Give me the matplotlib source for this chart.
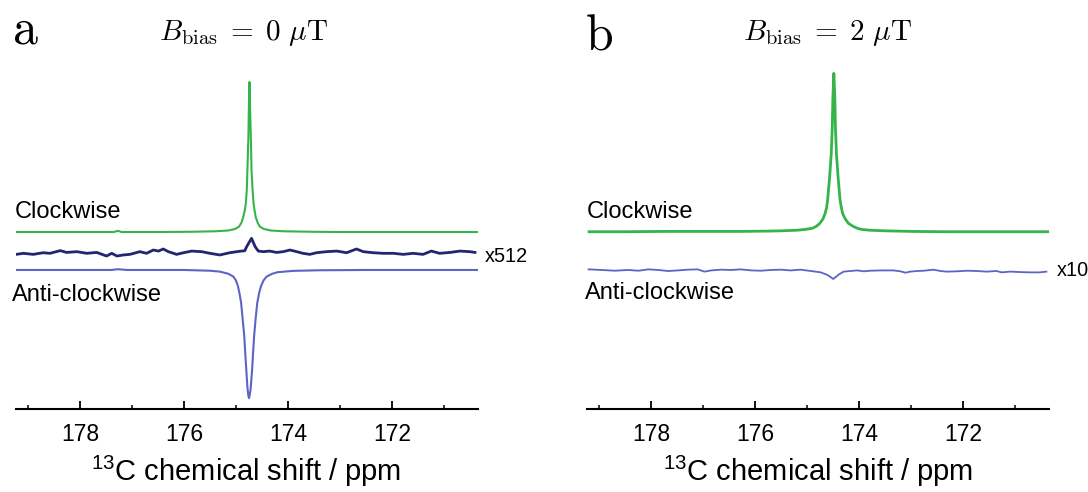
import matplotlib
matplotlib.use('Agg')
import matplotlib.pyplot as plt

plt.rcParams['font.family'] = ['Liberation Sans', 'DejaVu Sans']
plt.rcParams['mathtext.fontset'] = 'custom'
plt.rcParams['mathtext.rm'] = 'Liberation Sans'
plt.rcParams['mathtext.it'] = 'Liberation Sans:italic'

# ---- data (ppm, relative intensity) ----
# panel a, B_bias = 0 uT
cw_a_ppm = [179.24, 178.6, 177.9, 177.35, 177.27, 177.2, 176.5, 175.8, 175.4,
            175.15, 175.02, 174.94, 174.89, 174.86, 174.83, 174.81, 174.79,
            174.78, 174.77, 174.76, 174.75, 174.74, 174.73, 174.72, 174.71,
            174.70, 174.68, 174.66, 174.64, 174.62, 174.58, 174.54, 174.46,
            174.33, 174.08, 173.6, 173.0, 172.2, 171.4, 170.35]
cw_a_int = [0.0, 0.0, 0.0, 0.0, 0.008, 0.0, 0.0, 0.002, 0.005,
            0.010, 0.020, 0.036, 0.065, 0.10, 0.145, 0.19, 0.29,
            0.41, 0.52, 0.64, 0.86, 1.0, 0.86, 0.72, 0.57,
            0.41, 0.28, 0.19, 0.14, 0.10, 0.06, 0.036, 0.02,
            0.01, 0.005, 0.002, 0.0, 0.0, 0.0, 0.0]

acw_a_ppm = [179.24, 178.2, 177.4, 177.27, 177.1, 176.0, 175.5, 175.31, 175.15,
             175.05, 175.0, 174.96, 174.93, 174.90, 174.87, 174.84, 174.82,
             174.80, 174.78, 174.765, 174.75, 174.735, 174.72, 174.71, 174.69,
             174.67, 174.65, 174.62, 174.59, 174.555, 174.52, 174.47, 174.41,
             174.3, 174.2, 173.9, 173.4, 172.5, 171.5, 170.35]
acw_a_int = [0.0, 0.0, 0.0, 0.005, 0.0, 0.0, -0.005, -0.011, -0.025,
             -0.044, -0.07, -0.11, -0.16, -0.22, -0.33, -0.44, -0.56,
             -0.67, -0.78, -0.83, -0.855, -0.835, -0.80, -0.76, -0.67,
             -0.55, -0.44, -0.32, -0.22, -0.155, -0.11, -0.07, -0.044,
             -0.025, -0.015, -0.006, -0.002, 0.0, 0.0, 0.0]

# anti-clockwise x512 trace
acw512_ppm = [179.23, 179.09, 178.90, 178.71, 178.58, 178.38, 178.26, 178.06,
              177.87, 177.68, 177.49, 177.39, 177.29, 177.17, 177.04, 176.85,
              176.72, 176.59, 176.49, 176.40, 176.30, 176.14, 176.01, 175.85,
              175.66, 175.50, 175.31, 175.12, 174.92, 174.83, 174.79, 174.70,
              174.63, 174.57, 174.47, 174.35, 174.22, 174.09, 173.96, 173.83,
              173.71, 173.58, 173.45, 173.26, 173.06, 172.87, 172.68, 172.55,
              172.36, 172.17, 171.97, 171.78, 171.59, 171.40, 171.24, 171.08,
              170.88, 170.69, 170.50, 170.40]
acw512_int = [-0.009, -0.002, -0.009, 0.002, -0.002, 0.016, 0.004, 0.009,
              -0.002, 0.004, -0.020, -0.002, -0.020, -0.013, -0.009, 0.009,
              -0.002, 0.020, 0.013, 0.027, 0.009, -0.009, 0.002, 0.013,
              0.009, -0.002, -0.013, 0.002, 0.012, 0.015, 0.045, 0.098,
              0.042, 0.013, 0.009, 0.013, 0.004, 0.009, 0.020, 0.009,
              -0.002, -0.009, 0.002, 0.009, 0.013, 0.002, 0.027, 0.009,
              0.002, -0.002, -0.002, -0.009, -0.002, -0.009, 0.013, -0.002,
              0.004, 0.013, 0.009, 0.004]

# panel b, B_bias = 2 uT
cw_b_ppm = [179.2, 178.5, 177.8, 177.0, 176.3, 175.8, 175.5, 175.2, 175.05,
            174.90, 174.82, 174.76, 174.70, 174.66, 174.63, 174.61, 174.57,
            174.54, 174.52, 174.51, 174.49, 174.47, 174.46, 174.44, 174.41,
            174.37, 174.345, 174.32, 174.27, 174.21, 174.13, 174.04, 173.95,
            173.8, 173.5, 173.0, 172.3, 171.5, 170.35]
cw_b_int = [0.0, 0.0, 0.002, 0.002, 0.002, 0.004, 0.006, 0.010, 0.015,
            0.023, 0.038, 0.056, 0.085, 0.12, 0.16, 0.21, 0.37,
            0.52, 0.70, 0.88, 1.056, 0.88, 0.70, 0.52, 0.37,
            0.21, 0.16, 0.12, 0.085, 0.056, 0.038, 0.023, 0.015,
            0.010, 0.006, 0.002, 0.0, 0.0, 0.0]

# anti-clockwise x10 trace
acw10_ppm = [179.21, 178.96, 178.70, 178.45, 178.25, 178.06, 177.87, 177.68,
             177.49, 177.30, 177.11, 176.98, 176.85, 176.66, 176.47, 176.28,
             176.08, 175.89, 175.70, 175.51, 175.32, 175.13, 174.93, 174.74,
             174.61, 174.50, 174.39, 174.30, 174.17, 174.04, 173.91, 173.79,
             173.59, 173.34, 173.21, 173.11, 173.02, 172.89, 172.76, 172.57,
             172.44, 172.32, 172.12, 171.93, 171.74, 171.55, 171.36, 171.26,
             171.10, 170.91, 170.72, 170.53, 170.40]
acw10_int = [0.011, 0.007, 0.002, 0.007, 0.002, 0.011, 0.007, 0.0,
             0.004, 0.009, 0.011, -0.004, 0.004, 0.009, 0.007, 0.011,
             0.004, 0.002, 0.007, 0.009, 0.004, 0.009, 0.0, -0.009,
             -0.027, -0.053, -0.022, -0.004, 0.0, 0.004, -0.002, 0.002,
             0.004, 0.004, -0.002, -0.011, -0.004, 0.0, 0.002, 0.009,
             0.0, -0.004, -0.002, 0.002, 0.0, -0.004, 0.0, -0.009,
             -0.004, -0.007, -0.009, -0.009, -0.004]

major_ticks = [178, 176, 174, 172]
minor_ticks = [179, 177, 175, 173, 171]

# ---- style / layout ----
GREEN = '#35b44a'
BLUE = '#5c64c6'
NAVY = '#252470'
W, H = 1088, 492


def fx(px):
    return px / W


def fy(py):
    return 1 - py / H


def style_axis(ax):
    ax.set_xlim(179.24, 170.35)
    ax.set_ylim(0, 2.327)
    for s in ['top', 'left', 'right']:
        ax.spines[s].set_visible(False)
    ax.spines['bottom'].set_linewidth(1.5)
    ax.set_yticks([])
    ax.set_xticks(major_ticks)
    ax.set_xticks(minor_ticks, minor=True)
    ax.tick_params(axis='x', which='major', direction='in', length=6,
                   width=1.3, labelsize=16.5, pad=10)
    ax.tick_params(axis='x', which='minor', direction='in', length=3,
                   width=1.1)
    ax.set_xlabel(r'$^{13}$C chemical shift / ppm', fontsize=21, labelpad=6)


fig = plt.figure(figsize=(10.88, 4.92), dpi=100)
ax_a = fig.add_axes([fx(15.6), fy(409), 462 / W, 349 / H])
ax_b = fig.add_axes([fx(587), fy(409), 462 / W, 349 / H])

# panel a
ax_a.plot(cw_a_ppm, [v + 1.18 for v in cw_a_int], color=GREEN, lw=1.5)
ax_a.plot(acw512_ppm, [v + 1.04 for v in acw512_int], color=NAVY, lw=2.0)
ax_a.plot(acw_a_ppm, [v + 0.927 for v in acw_a_int], color=BLUE, lw=1.5)
style_axis(ax_a)

# panel b
ax_b.plot(cw_b_ppm, [v + 1.182 for v in cw_b_int], color=GREEN, lw=2.0)
ax_b.plot(acw10_ppm, [v + 0.92 for v in acw10_int], color=BLUE, lw=1.3)
style_axis(ax_b)

# text
fig.text(fx(12), fy(43), r'$\mathrm{a}$', math_fontfamily='cm', fontsize=36,
         va='baseline')
fig.text(fx(585), fy(49), r'$\mathrm{b}$', math_fontfamily='cm', fontsize=36,
         va='baseline')
fig.text(fx(243), fy(33), r'$B_{\mathrm{bias}}\;=\;0\ \mu\mathrm{T}$',
         math_fontfamily='cm', fontsize=21, ha='center', va='center')
fig.text(fx(827), fy(33), r'$B_{\mathrm{bias}}\;=\;2\ \mu\mathrm{T}$',
         math_fontfamily='cm', fontsize=21, ha='center', va='center')

fig.text(fx(14.5), fy(212.5), 'Clockwise', fontsize=17, va='center')
fig.text(fx(12), fy(295), 'Anti-clockwise', fontsize=17, va='center')
fig.text(fx(485), fy(256), 'x512', fontsize=14.3, va='center')

fig.text(fx(587), fy(212), 'Clockwise', fontsize=17, va='center')
fig.text(fx(585), fy(293), 'Anti-clockwise', fontsize=17, va='center')
fig.text(fx(1057), fy(271), 'x10', fontsize=14.3, va='center')

fig.savefig('out.png', dpi=100)
